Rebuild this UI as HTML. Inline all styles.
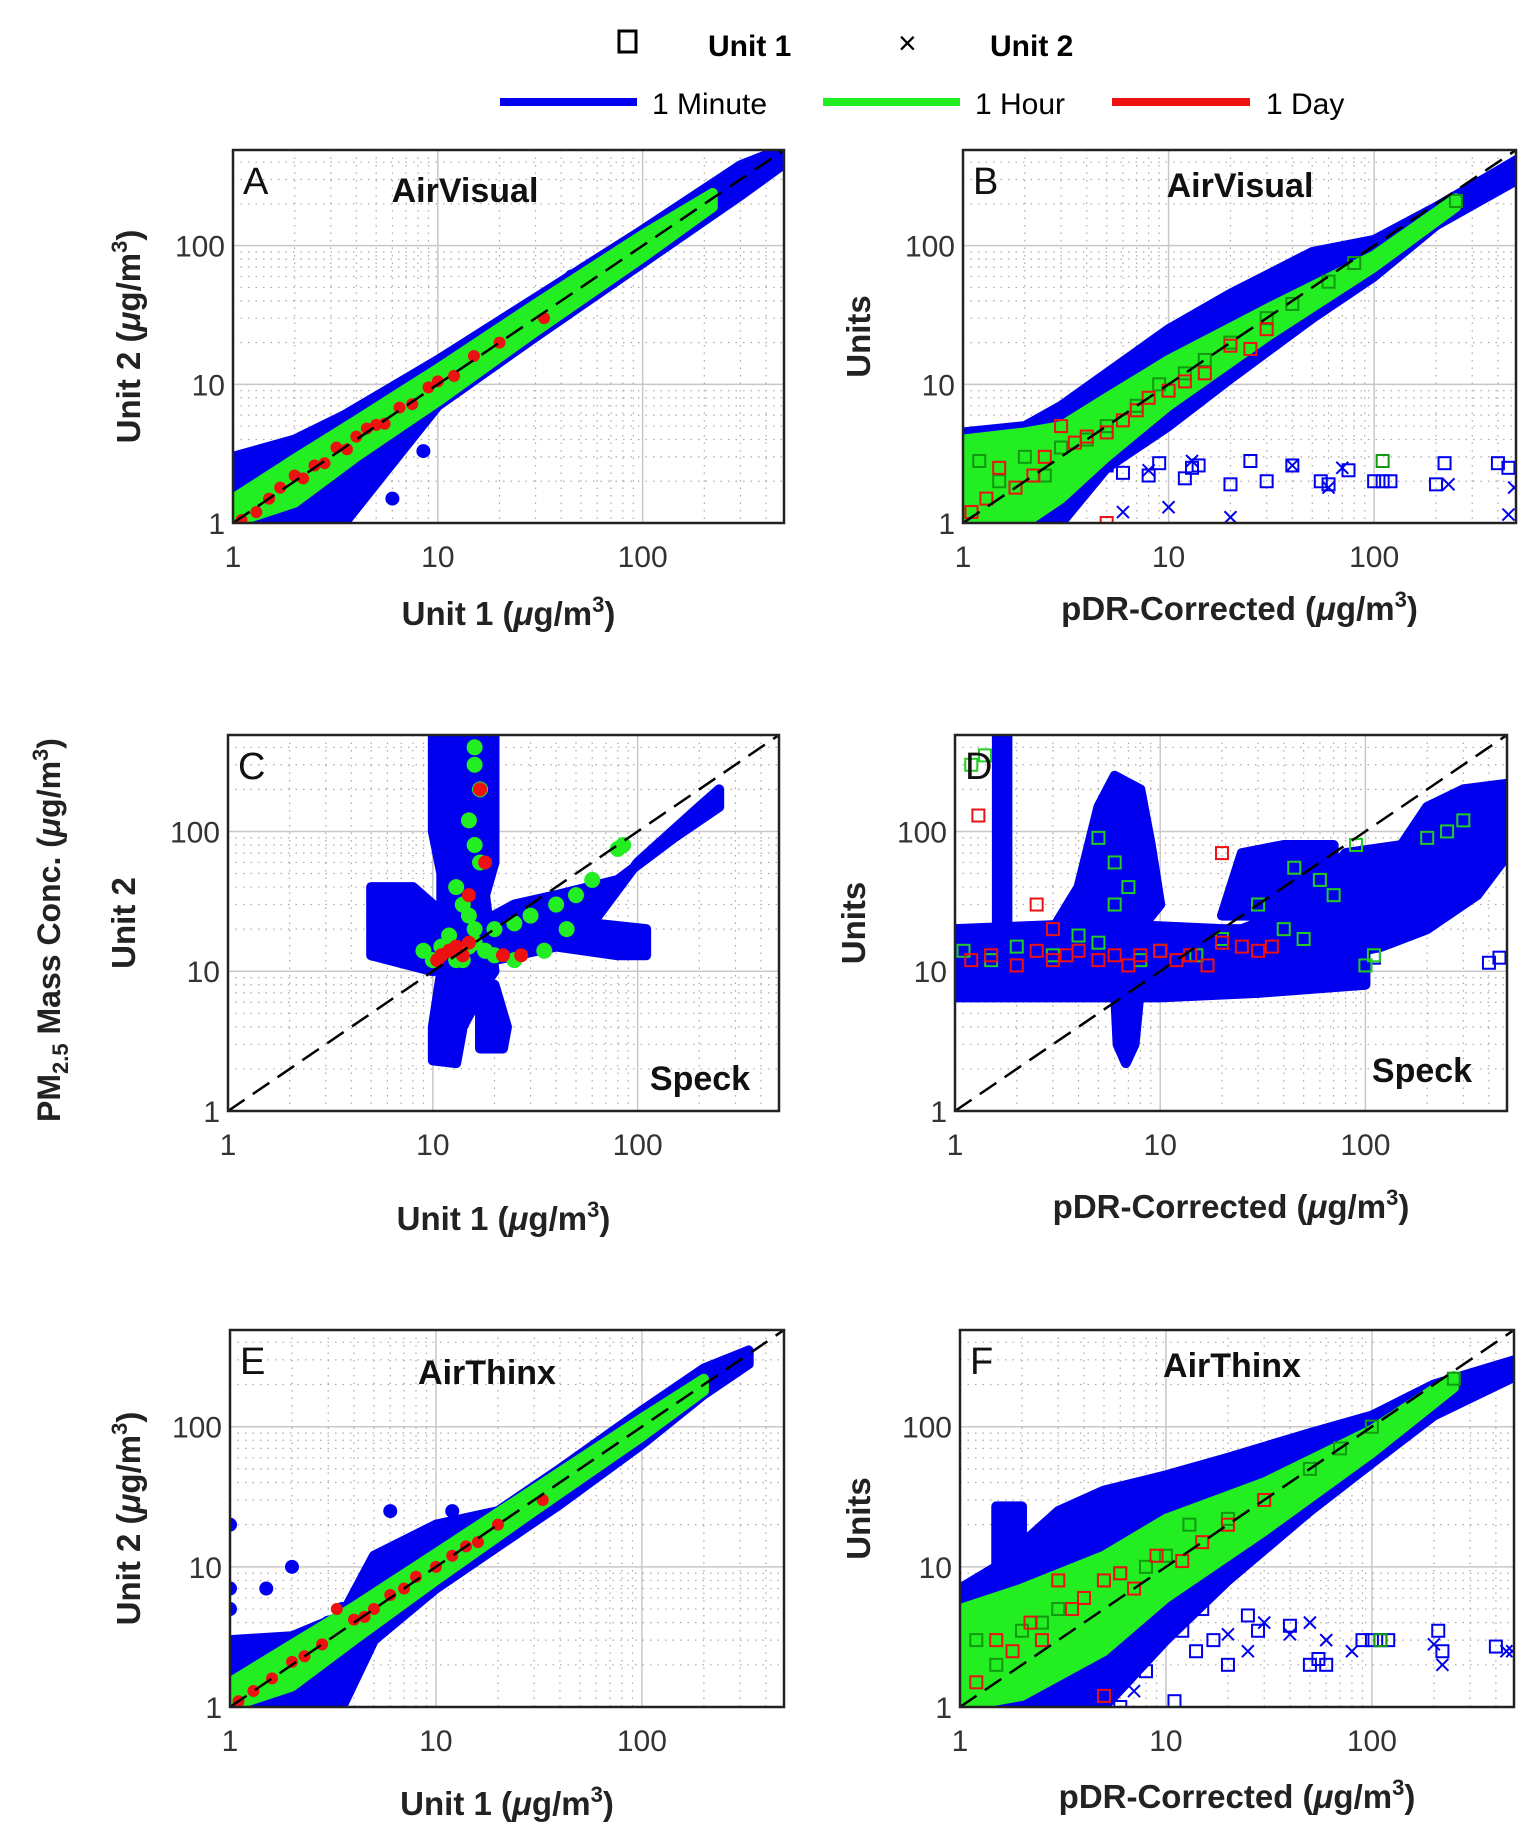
<!DOCTYPE html>
<html><head><meta charset="utf-8">
<style>
html,body{margin:0;padding:0;background:#fff;}
svg{display:block;font-family:"Liberation Sans",sans-serif;}
</style></head>
<body>
<svg id="fig" width="1537" height="1848" viewBox="0 0 1537 1848" xmlns="http://www.w3.org/2000/svg">
<defs id="defs"></defs>
<g>
  <rect x="619" y="31" width="17" height="21" fill="none" stroke="#000" stroke-width="3"/>
  <text x="708" y="56" font-size="30" font-weight="bold">Unit 1</text>
  <text x="898" y="54" font-size="32">×</text>
  <text x="990" y="56" font-size="30" font-weight="bold">Unit 2</text>
  <line x1="500" y1="102" x2="637" y2="102" stroke="#0000ee" stroke-width="8"/>
  <text x="652" y="114" font-size="30">1 Minute</text>
  <line x1="823" y1="102" x2="960" y2="102" stroke="#22ee22" stroke-width="8"/>
  <text x="975" y="114" font-size="30">1 Hour</text>
  <line x1="1112" y1="102" x2="1250" y2="102" stroke="#ee1111" stroke-width="8"/>
  <text x="1266" y="114" font-size="30">1 Day</text>
</g>
<text transform="translate(60,930) rotate(-90)" text-anchor="middle" font-size="32" font-weight="bold" fill="#222">PM<tspan font-size="22" dy="8">2.5</tspan><tspan dy="-8"> Mass Conc. (</tspan><tspan font-style="italic">μ</tspan>g/m<tspan font-size="22" dy="-12">3</tspan><tspan dy="12">)</tspan></text>
</svg>
<script>
const LOGMAX = 2.69;
// ---------- Panel A data ----------
const aBandX=[1,2,3.5,10,30,100,300,480];
const aBandHi=[3,4,6,15,42,130,380,500];
const aBandLo=[1,1,1,7,22,75,230,380];
const aGreenX=[1,2,4,10,30,100,220];
const aGreenHi=[1.5,2.9,5.5,13,38,120,240];
const aGreenLo=[1,1.4,3,7.5,24,82,190];
const aRedX=[1.1,1.3,1.5,1.7,2,2.2,2.5,2.8,3.2,3.6,4,4.5,5,5.5,6.5,7.5,9,10,12,15,20,33];
const aRedY=[1.05,1.2,1.5,1.8,2.2,2.1,2.6,2.7,3.5,3.4,4.2,4.8,5.1,5.2,6.8,7.2,9.5,10.5,11.5,16,20,30];
const aOutX=[8.5,2.5,6,45];
const aOutY=[3.3,1.1,1.5,60];
// ---------- Panel B data ----------
const bBandX=[1,2,3,5,10,20,50,100,200,500];
const bBandHi=[4.5,5,7,12,25,45,90,110,190,420];
const bBandLo=[1,1,1,2.5,5,11,30,60,140,300];
const bGreenX=[1,2,3,5,10,30,100,250];
const bGreenHi=[4,4.5,5,8,15,35,85,220];
const bGreenLo=[1,1,1.5,3,7,22,70,190];
const bSqX=[5,6,8,9,12,13,14,20,25,30,40,55,60,75,100,110,120,200,220,400,450];
const bSqY=[2.6,2.3,2.2,2.7,2.1,2.5,2.6,1.9,2.8,2.0,2.6,2.0,1.9,2.4,2.0,2.0,2.0,1.9,2.7,2.7,2.5];
const bXX=[6,8,10,13,20,40,60,70,230,480,450];
const bXY=[1.2,2.4,1.3,2.8,1.1,2.6,1.8,2.5,1.9,1.8,1.15];
const bGsqX=[1.2,1.5,2,2.5,3,4,5,7,9,12,15,20,30,40,60,80,110,250];
const bGsqY=[2.8,2,3,2.2,3.5,4,5,7,10,12,15,20,30,38,55,75,2.8,210];
const bRsqX=[1.1,1.3,1.5,1.8,2.2,2.5,3,3.5,4,5,6,7,8,10,12,15,20,25,30,5];
const bRsqY=[1.2,1.5,2.5,1.8,2.2,3,5,3.8,4.2,4.5,5.5,6.5,8,9,10.5,12,19,18,25,1.0];
// ---------- Panel C data ----------
const cPolyVertX=[10,13,14,18,20,18,20,20,10,10,11,11,10];
const cPolyVertY=[2.3,2.2,4,8,10,35,60,500,500,100,50,10,4];
const cPolyLeftX=[5,5,8,10,12,10,5];
const cPolyLeftY=[14,40,40,30,15,10,13];
const cPolyBandX=[12,20,40,80,110,110,60,100,200,250,250,150,80,40,25,15];
const cPolyBandY=[9,12,15,13,13,20,22,60,150,200,150,90,45,35,30,20];
const cPolySpikeX=[17,22,23,20,17];
const cPolySpikeY=[2.8,2.8,4,8,6];
const cGreenX=[16,16,17,15,16,17,13,14,15,16,12,20,25,30,40,50,60,80,15,20,25,35,45,14,16,18,11,13,9,10,85];
const cGreenY=[400,300,200,120,80,60,40,30,25,20,18,20,22,25,30,35,45,75,15,13,12,14,20,12,16,14,15,12,14,12,80];
const cRedX=[17,18,15,11,12,13,14,15,22,27,10.5];
const cRedY=[200,60,35,13,14,15,13,16,13,13,12];
// ---------- Panel D data ----------
const dPolyBandX=[1,10,30,100,100,60,20,5,1];
const dPolyBandY=[6.5,6.5,7,8,17,20,20,22,20];
const dPolySpikeX=[1.6,1.8,1.8,1.6];
const dPolySpikeY=[7,7,500,500];
const dPolyCloudX=[3,4,5,6,8,9,10,8];
const dPolyCloudY=[20,40,150,250,200,80,30,20];
const dPolyLowX=[6,8,7.5,6.8,6.2];
const dPolyLowY=[8,8,3,2.2,3];
const dPolyPlumeX=[25,50,80,150,200,300,500,500,350,200,120,60,30];
const dPolyPlumeY=[20,30,70,80,150,200,220,70,35,20,15,12,12];
const dPolyMidX=[20,25,40,70,70,40];
const dPolyMidY=[25,70,80,80,30,25];
const dSqX=[100,110,400,450];
const dSqY=[11,12.5,11.5,12.5];
const dGreenX=[1.1,1.5,2,3,4,5,6,7,8,10,15,20,30,40,50,70,90,100,110,200,250,300,5,6,1.2,1.4,45,60];
const dGreenY=[14,12,15,13,18,16,60,40,12,14,13,17,30,20,17,35,80,11,13,90,100,120,90,30,300,350,55,45];
const dRedX=[1.2,1.5,2,2.5,3,3.5,4,5,6,7,8,10,12,14,17,20,25,30,35,1.3,2.5,3,20];
const dRedY=[12,13,11,14,12,13,14,12,13,11,13,14,12,13,11,16,15,14,15,130,30,20,70];
// ---------- Panel E data ----------
const eBandX=[1,2,3.5,5,10,20,40,100,200,330];
const eBandHi=[3,3.2,4.5,12,20,25,50,130,260,350];
const eBandLo=[1,1,1,3,7,14,28,75,170,280];
const eGreenX=[1,2,4,10,30,100,200];
const eGreenHi=[1.5,2.8,5.2,12.5,36,115,220];
const eGreenLo=[1,1.4,3,8,25,85,180];
const eOutX=[1,1,1,1.5,2,3,3.5,6,8,12];
const eOutY=[20,7,5,7,10,4,5,25,15,25];
const eRedX=[1.1,1.3,1.6,2,2.3,2.8,3.3,4,4.5,5,6,7,8,10,12,14,16,20,33];
const eRedY=[1.1,1.3,1.6,2.1,2.3,2.8,5,4.2,4.4,5,6.3,7,8.5,10,12,14,15,20,30];
// ---------- Panel F data ----------
const fBandX=[1,1.5,3,5,10,20,50,100,200,500];
const fBandHi=[7,10,25,35,45,60,90,120,200,300];
const fBandLo=[1,1,1,1,3,8,25,55,120,230];
const fPolySpikeX=[1.5,2,2,1.5];
const fPolySpikeY=[5,5,27,27];
const fGreenX=[1,2,5,10,30,100,250];
const fGreenHi=[5,7,12,22,40,95,230];
const fGreenLo=[1,1.2,2.5,6,18,65,190];
const fSqX=[8,9,12,14,15,17,20,25,28,40,50,55,60,90,100,110,120,210,220,400,11,6];
const fSqY=[1.8,3,3.5,2.5,5,3,2,4.5,3.5,3.8,2,2.2,2,3,3,3,3,3.5,2.5,2.7,1.1,1];
const fXX=[20,25,30,40,50,60,80,200,220,450,480,7];
const fXY=[3.3,2.5,4,3.3,4,3,2.5,2.8,2,2.5,2.5,1.3];
const fGsqX=[1.2,1.5,2,2.5,3,4,5,6,8,10,13,20,30,50,70,100,110,250];
const fGsqY=[3,2,3.5,4,5,6,8,9,10,12,20,22,30,50,70,100,3,220];
const fRsqX=[1.2,1.5,1.8,2.2,2.5,3,3.5,4,5,6,7,9,12,15,20,30,5];
const fRsqY=[1.5,3,2.5,4,3,8,5,6,8,9,7,12,11,15,20,30,1.2];

const NS="http://www.w3.org/2000/svg";
const svg=document.getElementById('fig');
const defs=document.getElementById('defs');
function mk(tag,attrs,parent){const e=document.createElementNS(NS,tag);for(const k in attrs)e.setAttribute(k,attrs[k]);(parent||svg).appendChild(e);return e;}
function makeAxes(L,T,R,B){const W=R-L,H=B-T;return{L,T,R,B,
  x:v=>L+Math.log10(v)/LOGMAX*W, y:v=>B-Math.log10(v)/LOGMAX*H};}
function drawFrame(ax,g){
  for(let d=0;d<3;d++)for(let m=1;m<10;m++){const v=m*Math.pow(10,d);if(Math.log10(v)>LOGMAX)continue;
    const major=m===1;const X=ax.x(v),Y=ax.y(v);
    const l1=mk('line',{x1:X,y1:ax.T,x2:X,y2:ax.B,stroke:major?'#c8c8c8':'#aaa','stroke-width':major?1.5:1.2,'stroke-dasharray':major?'':'1.5 6'},g);
    
    
    const l2=mk('line',{x1:ax.L,y1:Y,x2:ax.R,y2:Y,stroke:major?'#c8c8c8':'#aaa','stroke-width':major?1.5:1.2,'stroke-dasharray':major?'':'1.5 6'},g);
    
    
  }
}
function poly(ax,g,xs,ys,color,name){
  const pts=xs.map((v,i)=>ax.x(v)+','+ax.y(ys[i])).join(' ');
  const p=mk('polygon',{points:pts,fill:color,stroke:color,'stroke-width':10,'stroke-linejoin':'round'},g);
  
  
}
function band(ax,g,xs,hi,lo,color,name){
  poly(ax,g,xs.concat(xs.slice().reverse()),hi.concat(lo.slice().reverse()),color,name);
}
function dots(ax,g,xs,ys,type,color,name,r){
  xs.forEach((v,i)=>{const X=ax.x(v),Y=ax.y(ys[i]);let e;
    if(type==='dot')e=mk('circle',{cx:X,cy:Y,r:r||7,fill:color},g);
    else if(type==='sq')e=mk('rect',{x:X-6,y:Y-6,width:12,height:12,fill:'none',stroke:color,'stroke-width':2},g);
    else e=mk('path',{d:`M${X-6},${Y-6}L${X+6},${Y+6}M${X-6},${Y+6}L${X+6},${Y-6}`,stroke:color,'stroke-width':2},g);
    
    
  });
}
function finish(ax,g,o){
  const d=mk('line',{x1:ax.L,y1:ax.B,x2:ax.R,y2:ax.y(Math.pow(10,LOGMAX)),stroke:'#000','stroke-width':2.5,'stroke-dasharray':'20 10'},g);
  
  
  const f=mk('rect',{x:ax.L,y:ax.T,width:ax.R-ax.L,height:ax.B-ax.T,fill:'none',stroke:'#222','stroke-width':2.5},o.outer);
  
  
  const og=o.outer;
  [1,10,100].forEach(v=>{
    const tx=mk('text',{x:ax.x(v),y:ax.B+44,'text-anchor':'middle','font-size':30,fill:'#333'},og);tx.textContent=v;
    
    
    const ty=mk('text',{x:ax.L-8,y:ax.y(v)+11,'text-anchor':'end','font-size':30,fill:'#333'},og);ty.textContent=v;
    
    
  });
  const lt=mk('text',{x:ax.L+10,y:ax.T+44,'font-size':38,fill:'#111'},og);lt.textContent=o.letter;
  
  
  if(o.title){const t=mk('text',{x:o.title[1],y:o.title[2],'text-anchor':'middle','font-size':34,'font-weight':'bold',fill:'#111'},og);t.textContent=o.title[0];
    
    }
  const xl=mk('text',{x:(ax.L+ax.R)/2,y:o.xlY,'text-anchor':'middle','font-size':33,'font-weight':'bold',fill:'#222'},og);
  xl.innerHTML=o.xl+' (<tspan font-style="italic">μ</tspan>g/m<tspan font-size="22" dy="-13">3</tspan><tspan dy="13">)</tspan>';
  
  
  const yl=mk('text',{transform:`translate(${o.ylX},${(ax.T+ax.B)/2}) rotate(-90)`,'text-anchor':'middle','font-size':33,'font-weight':'bold',fill:'#222'},og);
  yl.innerHTML=o.unit?o.yl+' (<tspan font-style="italic">μ</tspan>g/m<tspan font-size="22" dy="-13">3</tspan><tspan dy="13">)</tspan>':o.yl;
  
  
}
let pid=0;
function panel(name,L,T,R,B){
  const outer=mk('g',{});
  const cid='clip'+(pid++);
  const cp=mk('clipPath',{id:cid},defs);mk('rect',{x:L,y:T,width:R-L,height:B-T},cp);
  const g=mk('g',{'clip-path':`url(#${cid})`},outer);
  
  
  const ax=makeAxes(L,T,R,B);drawFrame(ax,g);return[ax,g,outer];}
const BL='#0000ee',GR='#22ee22',RD='#ee1111';

// A
let [ax,g,og]=panel('panel-a',233,150,784,523);
band(ax,g,aBandX,aBandHi,aBandLo,BL,'one-minute-band');
dots(ax,g,aOutX,aOutY,'dot',BL,'one-minute-point');
band(ax,g,aGreenX,aGreenHi,aGreenLo,GR,'one-hour-band');
dots(ax,g,aRedX,aRedY,'dot',RD,'one-day-point',6);
finish(ax,g,{outer:og,letter:'A',title:['AirVisual',465,202],xl:'Unit 1',xlY:625,yl:'Unit 2  ',unit:true,ylX:140});
// B
[ax,g,og]=panel('panel-b',963,150,1516,523);
band(ax,g,bBandX,bBandHi,bBandLo,BL,'one-minute-band');
dots(ax,g,bSqX,bSqY,'sq',BL,'one-minute-unit1');
dots(ax,g,bXX,bXY,'x',BL,'one-minute-unit2');
band(ax,g,bGreenX,bGreenHi,bGreenLo,GR,'one-hour-band');
dots(ax,g,bGsqX,bGsqY,'sq','#119911','one-hour-unit1');
dots(ax,g,bRsqX,bRsqY,'sq',RD,'one-day-unit1');
finish(ax,g,{outer:og,letter:'B',title:['AirVisual',1240,197],xl:'pDR-Corrected',xlY:620,yl:'Units',ylX:870});
// C
[ax,g,og]=panel('panel-c',228,735,779,1111);
poly(ax,g,cPolyVertX,cPolyVertY,BL,'one-minute-cloud');
poly(ax,g,cPolyLeftX,cPolyLeftY,BL,'one-minute-cloud');
poly(ax,g,cPolyBandX,cPolyBandY,BL,'one-minute-cloud');
poly(ax,g,cPolySpikeX,cPolySpikeY,BL,'one-minute-cloud');
dots(ax,g,cGreenX,cGreenY,'dot',GR,'one-hour-point',8);
dots(ax,g,cRedX,cRedY,'dot',RD,'one-day-point',7);
finish(ax,g,{outer:og,letter:'C',title:['Speck',700,1090],xl:'Unit 1',xlY:1230,yl:'Unit 2',ylX:135});
// D
[ax,g,og]=panel('panel-d',955,735,1507,1111);
[[dPolyBandX,dPolyBandY],[dPolySpikeX,dPolySpikeY],[dPolyCloudX,dPolyCloudY],[dPolyLowX,dPolyLowY],[dPolyPlumeX,dPolyPlumeY],[dPolyMidX,dPolyMidY]].forEach(p=>poly(ax,g,p[0],p[1],BL,'one-minute-cloud'));
dots(ax,g,dSqX,dSqY,'sq',BL,'one-minute-unit1');
dots(ax,g,dGreenX,dGreenY,'sq','#22cc22','one-hour-unit1');
dots(ax,g,dRedX,dRedY,'sq',RD,'one-day-unit1');
finish(ax,g,{outer:og,letter:'D',title:['Speck',1422,1082],xl:'pDR-Corrected',xlY:1218,yl:'Units',ylX:865});
// E
[ax,g,og]=panel('panel-e',230,1330,784,1707);
band(ax,g,eBandX,eBandHi,eBandLo,BL,'one-minute-band');
dots(ax,g,eOutX,eOutY,'dot',BL,'one-minute-point');
band(ax,g,eGreenX,eGreenHi,eGreenLo,GR,'one-hour-band');
dots(ax,g,eRedX,eRedY,'dot',RD,'one-day-point',6);
finish(ax,g,{outer:og,letter:'E',title:['AirThinx',487,1384],xl:'Unit 1',xlY:1815,yl:'Unit 2 ',unit:true,ylX:140});
// F
[ax,g,og]=panel('panel-f',960,1330,1514,1707);
band(ax,g,fBandX,fBandHi,fBandLo,BL,'one-minute-band');
poly(ax,g,fPolySpikeX,fPolySpikeY,BL,'one-minute-cloud');
dots(ax,g,fSqX,fSqY,'sq',BL,'one-minute-unit1');
dots(ax,g,fXX,fXY,'x',BL,'one-minute-unit2');
band(ax,g,fGreenX,fGreenHi,fGreenLo,GR,'one-hour-band');
dots(ax,g,fGsqX,fGsqY,'sq','#119911','one-hour-unit1');
dots(ax,g,fRsqX,fRsqY,'sq',RD,'one-day-unit1');
finish(ax,g,{outer:og,letter:'F',title:['AirThinx',1232,1377],xl:'pDR-Corrected',xlY:1808,yl:'Units',ylX:870});
</script>
</body></html>
